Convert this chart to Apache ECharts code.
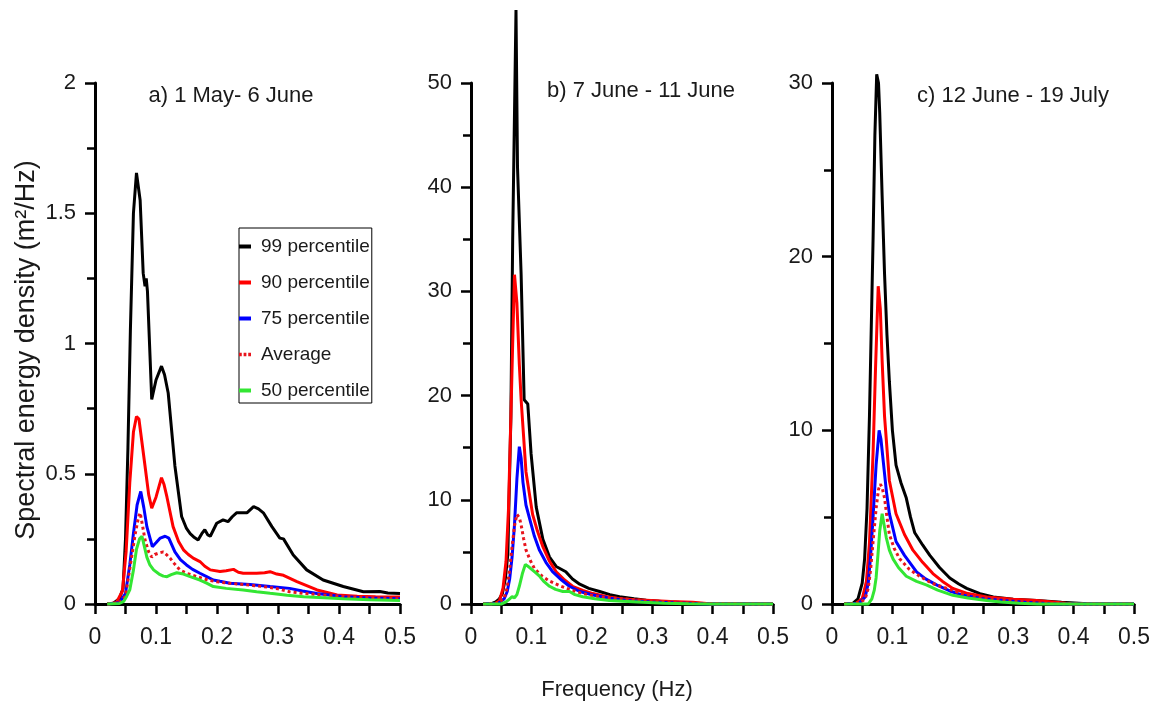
<!DOCTYPE html>
<html>
<head>
<meta charset="utf-8">
<script src="https://cdn.jsdelivr.net/npm/echarts@6/dist/echarts.min.js"></script>
<style>
html,body{margin:0;padding:0;background:#fff;}
#chart{width:1157px;height:711px;}
</style>
</head>
<body>
<div id="chart"></div>
<script>
// ---------- DATA ----------
const seriesNames = ['99 percentile', '90 percentile', '75 percentile', 'Average', '50 percentile'];
const panelTitles = ['a) 1 May- 6 June', 'b) 7 June - 11 June', 'c) 12 June - 19 July'];
const yMax = [2, 50, 30];
const yInterval = [0.5, 10, 10];
const xTickLabels = ['0', '0.1', '0.2', '0.3', '0.4', '0.5'];

// Panel a
const a99F = [0.02,0.03,0.04,0.046,0.05,0.054,0.058,0.063,0.068,0.074,0.079,0.082,0.084,0.086,0.093,0.1,0.109,0.114,0.12,0.131,0.142,0.15,0.156,0.163,0.169,0.175,0.18,0.185,0.189,0.1995,0.21,0.218,0.225,0.232,0.249,0.26,0.268,0.276,0.29,0.303,0.309,0.325,0.347,0.374,0.407,0.44,0.467,0.48,0.5];
const a99V = [0,0.003,0.02,0.06,0.25,0.6,1.05,1.5,1.655,1.55,1.27,1.22,1.25,1.2,0.785,0.86,0.913,0.88,0.81,0.53,0.336,0.29,0.27,0.255,0.246,0.27,0.285,0.265,0.26,0.31,0.323,0.316,0.335,0.35,0.35,0.374,0.365,0.35,0.297,0.253,0.25,0.188,0.131,0.092,0.067,0.047,0.048,0.042,0.04];
const a90F = [0.02,0.035,0.045,0.051,0.057,0.063,0.068,0.072,0.077,0.082,0.088,0.093,0.1,0.109,0.113,0.118,0.128,0.137,0.145,0.153,0.161,0.172,0.18,0.189,0.205,0.215,0.227,0.235,0.243,0.265,0.278,0.287,0.298,0.309,0.331,0.364,0.397,0.43,0.46,0.5];
const a90V = [0,0.005,0.05,0.2,0.465,0.66,0.72,0.71,0.62,0.53,0.42,0.368,0.41,0.485,0.46,0.41,0.297,0.24,0.208,0.19,0.176,0.163,0.145,0.131,0.125,0.128,0.133,0.122,0.118,0.118,0.12,0.124,0.115,0.11,0.086,0.054,0.035,0.03,0.028,0.027];
const a75F = [0.02,0.04,0.05,0.057,0.063,0.069,0.075,0.08,0.085,0.094,0.1,0.107,0.115,0.121,0.131,0.14,0.15,0.16,0.172,0.183,0.194,0.205,0.221,0.254,0.287,0.319,0.34,0.364,0.407,0.45,0.5];
const a75V = [0,0.005,0.04,0.15,0.27,0.38,0.432,0.37,0.297,0.22,0.235,0.253,0.26,0.253,0.2,0.17,0.15,0.133,0.118,0.105,0.092,0.087,0.08,0.075,0.067,0.06,0.05,0.04,0.028,0.023,0.02];
const aAvgF = [0.02,0.04,0.05,0.058,0.066,0.071,0.074,0.078,0.082,0.088,0.093,0.098,0.104,0.112,0.117,0.123,0.13,0.139,0.15,0.167,0.185,0.2,0.22,0.243,0.276,0.3,0.319,0.345,0.374,0.42,0.46,0.5];
const aAvgV = [0,0.005,0.03,0.15,0.27,0.33,0.35,0.3,0.246,0.2,0.18,0.19,0.195,0.2,0.19,0.176,0.155,0.131,0.118,0.105,0.092,0.085,0.08,0.075,0.067,0.058,0.047,0.04,0.035,0.027,0.023,0.02];
const a50F = [0.02,0.04,0.047,0.052,0.057,0.063,0.068,0.073,0.077,0.081,0.085,0.09,0.096,0.105,0.112,0.118,0.125,0.134,0.145,0.156,0.172,0.183,0.194,0.215,0.243,0.265,0.287,0.315,0.342,0.375,0.407,0.45,0.5];
const a50V = [0,0.002,0.01,0.03,0.054,0.13,0.21,0.25,0.26,0.22,0.18,0.15,0.131,0.115,0.107,0.105,0.113,0.12,0.115,0.105,0.092,0.08,0.067,0.06,0.054,0.047,0.041,0.034,0.028,0.024,0.02,0.016,0.013];

// Panel b
const b99F = [0.02,0.035,0.041,0.047,0.052,0.057,0.061,0.066,0.069,0.0745,0.077,0.083,0.088,0.094,0.0995,0.108,0.119,0.13,0.141,0.157,0.168,0.18,0.195,0.213,0.23,0.246,0.27,0.29,0.315,0.34,0.365,0.384,0.5];
const b99V = [0,0.05,0.2,0.5,1.0,2.5,4.8,17.9,35,57,41.9,31.6,19.6,19.2,14.4,9.3,6.2,4.5,3.6,3.1,2.4,1.9,1.5,1.2,0.9,0.7,0.5,0.35,0.25,0.17,0.08,0,0];
const b90F = [0.02,0.04,0.047,0.053,0.058,0.062,0.066,0.069,0.072,0.076,0.08,0.083,0.091,0.102,0.11,0.119,0.13,0.141,0.155,0.168,0.185,0.202,0.225,0.246,0.27,0.29,0.33,0.367,0.39,0.4,0.5];
const b90V = [0,0.05,0.3,1.5,4.1,9,17.9,25,31.6,28.9,23,19.6,12.7,8.6,7,5.5,4.1,3.1,2.3,1.7,1.3,1.0,0.7,0.5,0.4,0.35,0.25,0.17,0.05,0,0];
const b75F = [0.02,0.045,0.055,0.06,0.064,0.068,0.072,0.076,0.08,0.083,0.086,0.091,0.097,0.105,0.113,0.124,0.135,0.15,0.163,0.18,0.202,0.23,0.257,0.3,0.34,0.38,0.4,0.5];
const b75V = [0,0.05,0.5,1.2,2.4,4.5,7.6,12,15.1,14,11.7,9.5,8.2,6.5,5.2,4.0,3.1,2.3,1.7,1.2,0.86,0.55,0.34,0.2,0.1,0.03,0,0];
const bAvgF = [0.02,0.045,0.055,0.06,0.064,0.068,0.072,0.076,0.08,0.083,0.087,0.091,0.098,0.105,0.117,0.13,0.145,0.163,0.185,0.213,0.25,0.285,0.33,0.37,0.4,0.5];
const bAvgV = [0,0.05,0.6,1.6,3.4,5.5,7.5,8.6,8.3,7.6,6.3,5.2,4.2,3.4,2.7,2.2,1.8,1.4,1.0,0.7,0.5,0.34,0.2,0.08,0.02,0];
const b50F = [0.02,0.05,0.058,0.064,0.068,0.072,0.076,0.08,0.085,0.09,0.097,0.105,0.113,0.12,0.13,0.14,0.152,0.163,0.172,0.185,0.205,0.229,0.26,0.285,0.32,0.36,0.4,0.5];
const b50V = [0,0,0.2,0.5,0.7,0.6,0.9,1.7,2.9,3.8,3.5,3.1,2.7,2.2,1.7,1.4,1.2,1.2,0.9,0.7,0.5,0.34,0.25,0.17,0.08,0.02,0,0];

// Panel c
const c99F = [0.02,0.035,0.043,0.05,0.054,0.058,0.062,0.068,0.071,0.074,0.077,0.079,0.083,0.087,0.091,0.095,0.1,0.106,0.114,0.123,0.13,0.137,0.15,0.162,0.178,0.195,0.21,0.223,0.245,0.267,0.3,0.339,0.38,0.43,0.5];
const c99V = [0,0.05,0.3,1.2,2.6,5.5,10.8,21,27,30.5,30,28.3,23.5,19,15.5,12.8,10,8.0,7.0,6.1,5.0,4.1,3.4,2.8,2.1,1.5,1.15,0.9,0.6,0.4,0.28,0.2,0.1,0,0];
const c90F = [0.02,0.04,0.05,0.057,0.062,0.068,0.072,0.0765,0.08,0.083,0.087,0.095,0.106,0.12,0.134,0.15,0.167,0.183,0.2,0.225,0.256,0.3,0.339,0.37,0.4,0.5];
const c90V = [0,0.05,0.3,1.3,3.5,8.7,13.5,18.3,17,14,10.8,7.1,5.2,4.0,3.1,2.4,1.75,1.3,0.9,0.6,0.4,0.28,0.2,0.1,0,0];
const c75F = [0.02,0.045,0.055,0.06,0.064,0.068,0.073,0.078,0.081,0.084,0.09,0.095,0.106,0.12,0.14,0.155,0.173,0.195,0.217,0.25,0.284,0.32,0.36,0.4,0.5];
const c75V = [0,0.05,0.4,1.2,2.8,5,8,10,9.5,8.5,6.5,5.2,3.6,2.8,1.85,1.45,1.1,0.75,0.5,0.3,0.2,0.1,0.02,0,0];
const cAvgF = [0.02,0.045,0.055,0.06,0.064,0.068,0.073,0.077,0.08,0.083,0.087,0.091,0.095,0.103,0.112,0.128,0.145,0.165,0.19,0.215,0.245,0.28,0.32,0.36,0.4,0.5];
const cAvgV = [0,0.05,0.3,0.9,2.0,3.6,5.5,6.6,6.9,6.7,6.1,5.0,4.0,3.2,2.6,2.0,1.6,1.2,0.9,0.6,0.4,0.25,0.12,0.04,0,0];
const c50F = [0.02,0.06,0.066,0.07,0.073,0.076,0.079,0.083,0.086,0.09,0.095,0.101,0.11,0.123,0.14,0.156,0.175,0.2,0.225,0.256,0.28,0.31,0.34,0.5];
const c50V = [0,0,0.3,0.8,1.5,2.8,4.2,5.2,4.6,3.8,3.1,2.6,2.1,1.6,1.3,1.1,0.8,0.5,0.35,0.2,0.12,0.05,0,0];

// ---------- BUILD ----------
const FONT = "'Liberation Sans', Arial, Helvetica, sans-serif";
const TXT = '#1a1a1a';
const colors = ['#000000', '#ff0000', '#0000ff', '#e8141c', '#33e633'];
const types = ['solid', 'solid', 'solid', 'dotted', 'solid'];
const panelData = [
  [[a99F,a99V],[a90F,a90V],[a75F,a75V],[aAvgF,aAvgV],[a50F,a50V]],
  [[b99F,b99V],[b90F,b90V],[b75F,b75V],[bAvgF,bAvgV],[b50F,b50V]],
  [[c99F,c99V],[c90F,c90V],[c75F,c75V],[cAvgF,cAvgV],[c50F,c50V]]
];
const zip = (f, v) => f.map((x, i) => [x, v[i]]);

const grids = [
  {left: 95, top: 83, width: 305, height: 521},
  {left: 471, top: 83, width: 302, height: 521},
  {left: 832, top: 83, width: 302, height: 521}
];

const xAxes = grids.map((g, i) => ({
  type: 'value', gridIndex: i, min: 0, max: 0.5, interval: 0.05,
  axisLine: {show: true, onZero: false, lineStyle: {color: '#000', width: 3}},
  axisTick: {show: true, length: 10, lineStyle: {color: '#000', width: 2.5}},
  axisLabel: {
    margin: 22, fontSize: 23, color: TXT, fontFamily: FONT,
    formatter: v => {
      const k = Math.round(v * 100);
      return k % 10 === 0 ? xTickLabels[k / 10] : '';
    }
  },
  splitLine: {show: false}
}));

const yAxes = grids.map((g, i) => ({
  type: 'value', gridIndex: i, min: 0, max: yMax[i], interval: yInterval[i],
  axisLine: {show: true, onZero: false, lineStyle: {color: '#000', width: 3}},
  axisTick: {show: true, length: 10, lineStyle: {color: '#000', width: 2.5}},
  minorTick: {show: true, splitNumber: 2, length: 8, lineStyle: {color: '#000', width: 2.5}},
  axisLabel: {margin: 19, fontSize: 22, color: TXT, fontFamily: FONT},
  splitLine: {show: false}
}));

const series = [];
panelData.forEach((pd, i) => {
  pd.forEach((fv, k) => {
    series.push({
      name: seriesNames[k], type: 'line', xAxisIndex: i, yAxisIndex: i,
      data: zip(fv[0], fv[1]), symbol: 'none', showSymbol: false, clip: false,
      silent: true, z: 2 + k,
      lineStyle: {color: colors[k], width: 3, type: types[k]},
      itemStyle: {color: colors[k]}
    });
  });
});

const dotIcon = 'path://M0,0h3v4h-3z M5,0h3v4h-3z M10,0h3v4h-3z';
const legendData = seriesNames.map((n, k) => ({
  name: n, icon: types[k] === 'dotted' ? dotIcon : 'rect'
}));

const titlePos = [[231, 96], [641, 91], [1013, 96]];
const graphics = panelTitles.map((t, i) => ({
  type: 'text', x: titlePos[i][0], y: titlePos[i][1],
  style: {text: t, font: "22px " + FONT, fill: TXT, align: 'center', verticalAlign: 'middle'}
}));
graphics.push({
  type: 'text', x: 617, y: 690,
  style: {text: 'Frequency (Hz)', font: "22px " + FONT, fill: TXT, align: 'center', verticalAlign: 'middle'}
});
graphics.push({
  type: 'text', x: 27, y: 350, rotation: Math.PI / 2,
  style: {text: 'Spectral energy density (m\u00b2/Hz)', font: "27px " + FONT, fill: TXT, align: 'center', verticalAlign: 'middle'}
});

const chart = echarts.init(document.getElementById('chart'), null, {renderer: 'canvas'});
chart.setOption({
  animation: false,
  backgroundColor: '#fff',
  grid: grids,
  xAxis: xAxes,
  yAxis: yAxes,
  legend: {
    data: legendData, orient: 'vertical', left: 239, top: 228,
    padding: [9, 2, 3, 0], itemGap: 17, itemWidth: 12, itemHeight: 4,
    borderColor: '#000', borderWidth: 1, borderRadius: 0,
    selectedMode: false,
    textStyle: {fontSize: 19, lineHeight: 19, color: TXT, fontFamily: FONT, padding: [0, 0, 0, 5]}
  },
  graphic: graphics,
  series: series
});
</script>
</body>
</html>
